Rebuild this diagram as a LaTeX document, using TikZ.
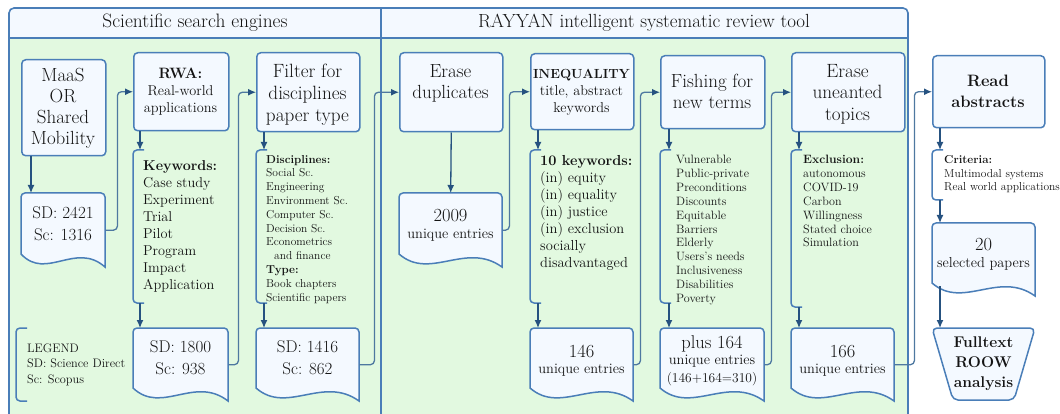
\documentclass[tikz,border=0pt]{standalone}
\usetikzlibrary{arrows.meta,calc}
\definecolor{bord}{RGB}{74,126,184}
\definecolor{boxfill}{RGB}{244,249,255}
\definecolor{pgreen}{RGB}{226,249,224}
\definecolor{lnk}{RGB}{78,120,160}
\definecolor{tipc}{RGB}{38,82,128}
\definecolor{txt}{RGB}{20,20,20}
\tikzset{
  fbig/.style={font=\fontsize{19}{21}\selectfont},
  fdoc/.style={font=\fontsize{17}{22}\selectfont},
  fnum/.style={font=\fontsize{18.5}{21}\selectfont},
  fsub/.style={font=\fontsize{14.4}{16}\selectfont},
  fmid/.style={font=\fontsize{14.3}{17}\selectfont},
  fsml/.style={font=\fontsize{11.5}{13.8}\selectfont},
  fsm2/.style={font=\fontsize{12.1}{13.9}\selectfont},
  shp/.style={draw=bord, fill=boxfill, line width=1.5pt},
  box/.style={shp, rounded corners=4pt, inner sep=0, anchor=north west},
  region/.style={inner sep=0, anchor=north west},
  tx/.style={align=center, inner sep=0, text=txt},
  lst/.style={align=left, inner sep=0, text=txt, anchor=north west},
  brkline/.style={draw=bord, line width=1.5pt},
  conn/.style={draw=lnk, line width=1.3pt, rounded corners=4pt, -{Latex[length=8pt,width=7pt,color=tipc]}},
  varr/.style={draw=tipc, line width=1.3pt, -{Latex[length=8pt,width=7pt,color=tipc]}},
  panel/.style={draw=bord, line width=1.6pt}
}
\newcommand\docshape[5]{%
  \path[shp] (#2,{#3+20}) [rounded corners=4pt] -- (#2,#3) -- (#4,#3) -- (#4,{#3+10}) [sharp corners] -- (#4,#5)
    .. controls ({#2+0.65*(#4-#2)},{#5-26}) and ({#2+0.3*(#4-#2)},{#5+14}) .. (#2,{#5-13}) -- cycle;
  \node[region, minimum width={#4-#2}, minimum height={#5-#3}] (#1) at (#2,#3) {};
}
\newcommand\brkshape[4]{%
  \draw[brkline] ({#2+11},#3) [rounded corners=4pt] -- (#2,#3) -- (#2,#4) -- ({#2+11},#4);
  \node[region, minimum width=11, minimum height={#4-#3}] (#1) at (#2,#3) {};
}
\begin{document}
\begin{tikzpicture}[x=1pt,y=-1pt]
\useasboundingbox (0,0) rectangle (1060,414);
% panels
\fill[boxfill, rounded corners=5pt] (9,8) rectangle (908,60);
\fill[pgreen] (9,38) rectangle (908,430);
\draw[panel] (9,38) -- (908,38);
\draw[panel] (381,8) -- (381,430);
\draw[panel, rounded corners=5pt] (9,430) -- (9,8) -- (908,8) -- (908,430);
\node[tx, font=\fontsize{19.4}{21}\selectfont] (h1) at (195,23) {Scientific search engines};
\node[tx, font=\fontsize{19}{21}\selectfont] (h2) at (644,23) {RAYYAN intelligent systematic review tool};

% boxes
\node[box, minimum width=84, minimum height=96] (maas) at (21,59) {};
\node[tx, fbig] (maast) at (63,108) {MaaS\\OR\\Shared\\Mobility};

\node[box, minimum width=95, minimum height=78] (rwa) at (133,52) {};
\node[tx, fmid] (rwat) at (180.5,92) {{\fontsize{15}{18}\selectfont\bfseries RWA:}\\Real-world\\applications};

\node[box, minimum width=103, minimum height=79] (filter) at (256,52) {};
\node[tx, font=\fontsize{19.2}{22}\selectfont] (filtert) at (307.5,94.5) {Filter for\\disciplines\\paper type};

\node[box, minimum width=103, minimum height=79] (erase) at (399,52) {};
\node[tx, fbig] (eraset) at (450.5,83) {Erase\\duplicates};

\node[box, minimum width=103, minimum height=76] (ineq) at (530,53) {};
\node[tx, fmid] (ineqt) at (581.5,92) {{\fontsize{13.2}{18}\selectfont\bfseries INEQUALITY}\\title, abstract\\keywords};

\node[box, minimum width=104, minimum height=73] (fish) at (660,55) {};
\node[tx, fbig] (fisht) at (712,91) {Fishing for\\new terms};

\node[box, minimum width=113, minimum height=79] (unw) at (791,52) {};
\node[tx, font=\fontsize{19.2}{21.5}\selectfont] (unwt) at (847.5,94) {Erase\\uneanted\\topics};

\node[box, minimum width=112, minimum height=72] (read) at (932,55) {};
\node[tx, font=\fontsize{16.5}{21}\selectfont\bfseries] (readt) at (988,91) {Read\\abstracts};

% documents
\docshape{d2421}{21}{193}{105}{267}
\node[tx, fdoc] (d2421t) at (63,224) {SD: 2421\\Sc: 1316};
\docshape{d1800}{133}{328}{228}{401}
\node[tx, fdoc] (d1800t) at (180.5,358) {SD: 1800\\Sc: 938};
\docshape{d1416}{256}{328}{359}{401}
\node[tx, fdoc] (d1416t) at (307.5,358) {SD: 1416\\Sc: 862};
\docshape{d2009}{399}{193}{502}{267}
\node[tx, fnum, anchor=base] (d2009a) at (450.5,222) {2009};
\node[tx, fsub, anchor=base] (d2009b) at (450.5,238.5) {unique entries};
\docshape{d146}{530}{328}{633}{401}
\node[tx, fnum, anchor=base] (d146a) at (581.5,357) {146};
\node[tx, fsub, anchor=base] (d146b) at (581.5,373.5) {unique entries};
\docshape{d164}{660}{328}{764}{401}
\node[tx, fnum, anchor=base] (d164a) at (712,348) {plus 164};
\node[tx, fsub, anchor=base] (d164b) at (712,364.5) {unique entries};
\node[tx, font=\fontsize{13.5}{16}\selectfont, anchor=base] (d164c) at (712,382) {(146+164=310)};
\docshape{d166}{791}{328}{894}{401}
\node[tx, fnum, anchor=base] (d166a) at (842.5,357) {166};
\node[tx, fsub, anchor=base] (d166b) at (842.5,373.5) {unique entries};
\docshape{d20}{932}{223}{1035}{296}
\node[tx, fnum, anchor=base] (d20a) at (983.5,251) {20};
\node[tx, fsub, anchor=base] (d20b) at (983.5,267.5) {selected papers};

% trapezoid
\path[shp, rounded corners=5pt] (983,328) -- (1035,328) -- (1014,400) -- (953,400) -- (932,328) -- cycle;
\node[region, minimum width=103, minimum height=72] (ft) at (932,328) {};
\node[tx, font=\fontsize{15.5}{20}\selectfont\bfseries] (ftt) at (983.5,364) {Fulltext\\ROOW\\analysis};

% brackets
\brkshape{kwb}{133}{150}{303}
\node[lst, fmid] (kwt) at (143,160.5) {\textbf{Keywords:}\\Case study\\Experiment\\Trial\\Pilot\\Program\\Impact\\Application};
\brkshape{dsb}{256}{150}{303}
\node[lst, fsml] (dst) at (266,155) {\textbf{Disciplines:}\\Social Sc.\\Engineering\\Environment Sc.\\Computer Sc.\\Decision Sc.\\Econometrics\\\hspace*{8pt}and finance\\\textbf{Type:}\\Book chapters\\Scientific papers};
\brkshape{kw10}{530}{150}{303}
\node[lst, font=\fontsize{14.5}{17}\selectfont] (kw10t) at (540,155.5) {\textbf{10 keywords:}\\(in) equity\\(in) equality\\(in) justice\\(in) exclusion\\socially\\disadvantaged};
\brkshape{vul}{660}{150}{303}
\node[lst, fsm2] (vult) at (676,155) {Vulnerable\\Public-private\\Preconditions\\Discounts\\Equitable\\Barriers\\Elderly\\Users's needs\\Inclusiveness\\Disabilities\\Poverty};
\brkshape{exc}{791}{150}{307}
\node[lst, fsm2] (exct) at (803,155) {\textbf{Exclusion:}\\autonomous\\COVID-19\\Carbon\\Willingness\\Stated choice\\Simulation};
\brkshape{crit}{932}{150}{200}
\node[lst, fsml] (critt) at (944,155) {\textbf{Criteria:}\\Multimodal systems\\Real world applications};
\brkshape{leg}{16}{328}{401}
\node[lst, font=\fontsize{12.3}{15.5}\selectfont] (legt) at (27,343.5) {LEGEND\\SD: Science Direct\\Sc: Scopus};

% vertical arrows
\draw[varr] ([xshift=10pt]maas.south west) -- ([xshift=10pt]d2421.north west);
\draw[varr] ([xshift=7pt]rwa.south west) -- ([xshift=7pt]kwb.north west);
\draw[varr] ([xshift=7pt]kwb.south west) -- ([xshift=7pt]d1800.north west);
\draw[varr] ([xshift=8pt]filter.south west) -- ([xshift=8pt]dsb.north west);
\draw[varr] ([xshift=8pt]dsb.south west) -- ([xshift=8pt]d1416.north west);
\draw[varr] (erase.south) -- (d2009.north);
\draw[varr] ([xshift=8pt]ineq.south west) -- ([xshift=8pt]kw10.north west);
\draw[varr] ([xshift=8pt]kw10.south west) -- ([xshift=8pt]d146.north west);
\draw[varr] ([xshift=9pt]fish.south west) -- ([xshift=9pt]vul.north west);
\draw[varr] ([xshift=9pt]vul.south west) -- ([xshift=9pt]d164.north west);
\draw[varr] ([xshift=8pt]unw.south west) -- ([xshift=8pt]exc.north west);
\draw[varr] ([xshift=8pt]exc.south west) -- ([xshift=8pt]d166.north west);
\draw[varr] ([xshift=8pt]read.south west) -- ([xshift=8pt]crit.north west);
\draw[varr] ([xshift=8pt]crit.south west) -- ([xshift=8pt]d20.north west);
\draw[varr] ([xshift=8pt,yshift=10pt]d20.south west) -- ([xshift=8pt]ft.north west);

% connectors
\draw[conn] (d2421.east) -- ++(12,0) |- (rwa.west);
\draw[conn] (d1800.east) -- ++(10,0) |- (filter.west);
\draw[conn] (d1416.east) -- ++(15,0) |- (erase.west);
\draw[conn] (d2009.east) -- ++(7,0) |- (ineq.west);
\draw[conn] (d146.east) -- ++(7,0) |- (fish.west);
\draw[conn] (d164.east) -- ++(7,0) |- (unw.west);
\draw[conn] (d166.east) -- ++(20,0) |- (read.west);
\end{tikzpicture}
\end{document}
